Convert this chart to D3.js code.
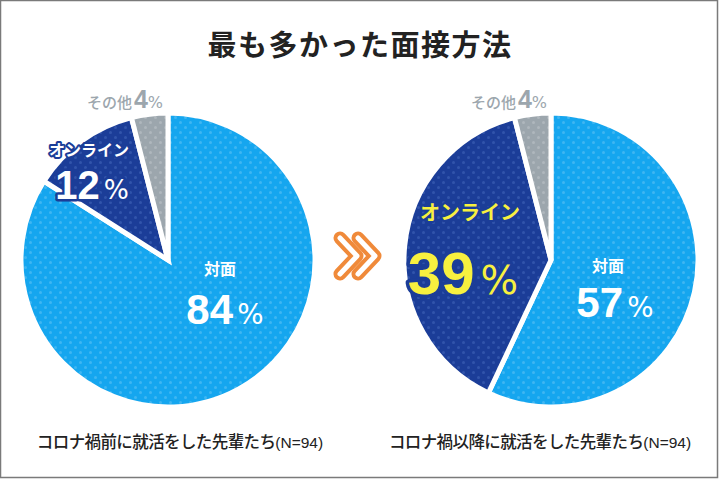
<!DOCTYPE html>
<html><head><meta charset="utf-8">
<script src="https://cdn.jsdelivr.net/npm/d3@7"></script>
<style>html,body{margin:0;padding:0;background:#fff;}svg{display:block;}</style>
</head><body>
<script>
const categories = ["対面", "オンライン", "その他"];
const beforeValues = [84, 12, 4];
const afterValues = [57, 39, 4];
const captions = ["コロナ禍前に就活をした先輩たち", "コロナ禍以降に就活をした先輩たち"];
const sampleLabel = "(N=94)";
const title = "最も多かった面接方法";

const W = 720, H = 480;
const svg = d3.select("body").append("svg").attr("width", W).attr("height", H);
const JP = "'Noto Sans CJK JP','Noto Sans',sans-serif";
const NUM = "'Liberation Sans',Arial,sans-serif";

svg.append("rect").attr("x", 0.5).attr("y", 0.5).attr("width", W - 3).attr("height", H - 3)
  .attr("fill", "#fff").attr("stroke", "#7a7a7a").attr("stroke-width", 1.5);

const color = d3.scaleOrdinal().domain(categories).range(["#15a6ef", "#1b3d98", "#9ca6ad"]);
const dotColor = d3.scaleOrdinal().domain(categories).range(["#3fb6f2", "#3154ab", "#afb7bd"]);

const defs = svg.append("defs");
categories.forEach((c, i) => {
  const p = defs.append("pattern").attr("id", "pat" + i).attr("patternUnits", "userSpaceOnUse")
    .attr("width", 10).attr("height", 10);
  p.append("rect").attr("width", 10).attr("height", 10).attr("fill", color(c));
  p.append("circle").attr("cx", 2.5).attr("cy", 2.5).attr("r", 1.5).attr("fill", dotColor(c));
  p.append("circle").attr("cx", 7.5).attr("cy", 7.5).attr("r", 1.5).attr("fill", dotColor(c));
});

svg.append("text").attr("x", 360).attr("y", 56).attr("text-anchor", "middle")
  .attr("font-family", JP).attr("font-weight", 700).attr("font-size", 29)
  .attr("letter-spacing", 1.5).attr("fill", "#222").text(title);

const pie = d3.pie().sort(null).value(d => d);
const R = 147;
const arc = d3.arc().innerRadius(0).outerRadius(R);

function drawPie(cx, cy, values) {
  const g = svg.append("g").attr("transform", `translate(${cx},${cy})`);
  g.selectAll("path").data(pie(values)).join("path")
    .attr("d", arc)
    .attr("fill", (d, i) => `url(#pat${i})`)
    .attr("stroke", "#fff").attr("stroke-width", 5).attr("stroke-linejoin", "miter");
  return g;
}

drawPie(168, 260, beforeValues);
drawPie(551, 260, afterValues);

function label(x, y, txt, size, fill, stroke, sw) {
  const t = svg.append("text").attr("x", x).attr("y", y).attr("text-anchor", "middle")
    .attr("font-family", JP).attr("font-weight", 700)
    .attr("font-size", size).attr("fill", fill);
  if (stroke) t.attr("stroke", stroke).attr("stroke-width", sw).attr("paint-order", "stroke")
    .attr("stroke-linejoin", "round");
  t.text(txt);
  return t;
}
function pct(x, y, val, size, fill, stroke, sw) {
  const t = svg.append("text").attr("x", x).attr("y", y).attr("text-anchor", "middle")
    .attr("font-family", NUM).attr("fill", fill);
  if (stroke) t.attr("stroke", stroke).attr("stroke-width", sw).attr("paint-order", "stroke")
    .attr("stroke-linejoin", "round");
  t.append("tspan").attr("font-size", size).attr("font-weight", 700).text(val);
  t.append("tspan").attr("font-size", size * 0.66).attr("font-family", "'DejaVu Sans',sans-serif")
    .attr("font-weight", 400).attr("dx", size * 0.1).text("%");
  return t;
}
function other(x, y, val) {
  const t = svg.append("text").attr("x", x).attr("y", y).attr("text-anchor", "middle")
    .attr("fill", "#9ca6ad");
  t.append("tspan").attr("font-family", JP).attr("font-size", 15).attr("font-weight", 500).text(categories[2]);
  t.append("tspan").attr("font-family", NUM).attr("font-size", 25).attr("font-weight", 700).attr("dx", 2).text(val);
  t.append("tspan").attr("font-family", "'DejaVu Sans',sans-serif").attr("font-size", 16).attr("font-weight", 400).text("%");
}

// Left labels
other(125, 108, beforeValues[2]);
label(89, 156, categories[1], 16, "#fff", "#1b3d98", 4);
pct(92, 199, beforeValues[1], 40, "#fff", "#1b3d98", 5);
label(220, 275, categories[0], 16, "#fff");
pct(225, 324, beforeValues[0], 42, "#fff");

// Right labels
other(509, 108, afterValues[2]);
label(470, 220, categories[1], 20, "#f7f03f", "#1b3d98", 4);
pct(463, 294, afterValues[1], 60, "#f7f03f", "#1b3d98", 7);
label(608, 272, categories[0], 16, "#fff");
pct(615, 317, afterValues[0], 42, "#fff");

// Arrow icon
const chev = [[340, 357], [358, 375]];
chev.forEach(([a, b]) => {
  svg.append("path").attr("d", `M${a},238 L${b},256 L${a},274`).attr("fill", "none")
    .attr("stroke", "#f08a3a").attr("stroke-width", 13).attr("stroke-linecap", "round").attr("stroke-linejoin", "round");
});
chev.forEach(([a, b]) => {
  svg.append("path").attr("d", `M${a},238 L${b},256 L${a},274`).attr("fill", "none")
    .attr("stroke", "#fff").attr("stroke-width", 5).attr("stroke-linecap", "round").attr("stroke-linejoin", "round");
});

// Captions
function caption(x, txt) {
  const t = svg.append("text").attr("x", x).attr("y", 448).attr("text-anchor", "middle")
    .attr("fill", "#222").attr("font-family", JP).attr("font-weight", 500);
  t.append("tspan").attr("font-size", 16.5).attr("letter-spacing", -0.6).text(txt);
  t.append("tspan").attr("font-size", 15.5).attr("font-family", NUM).text(sampleLabel);
}
caption(180, captions[0]);
caption(540, captions[1]);
</script>
</body></html>
